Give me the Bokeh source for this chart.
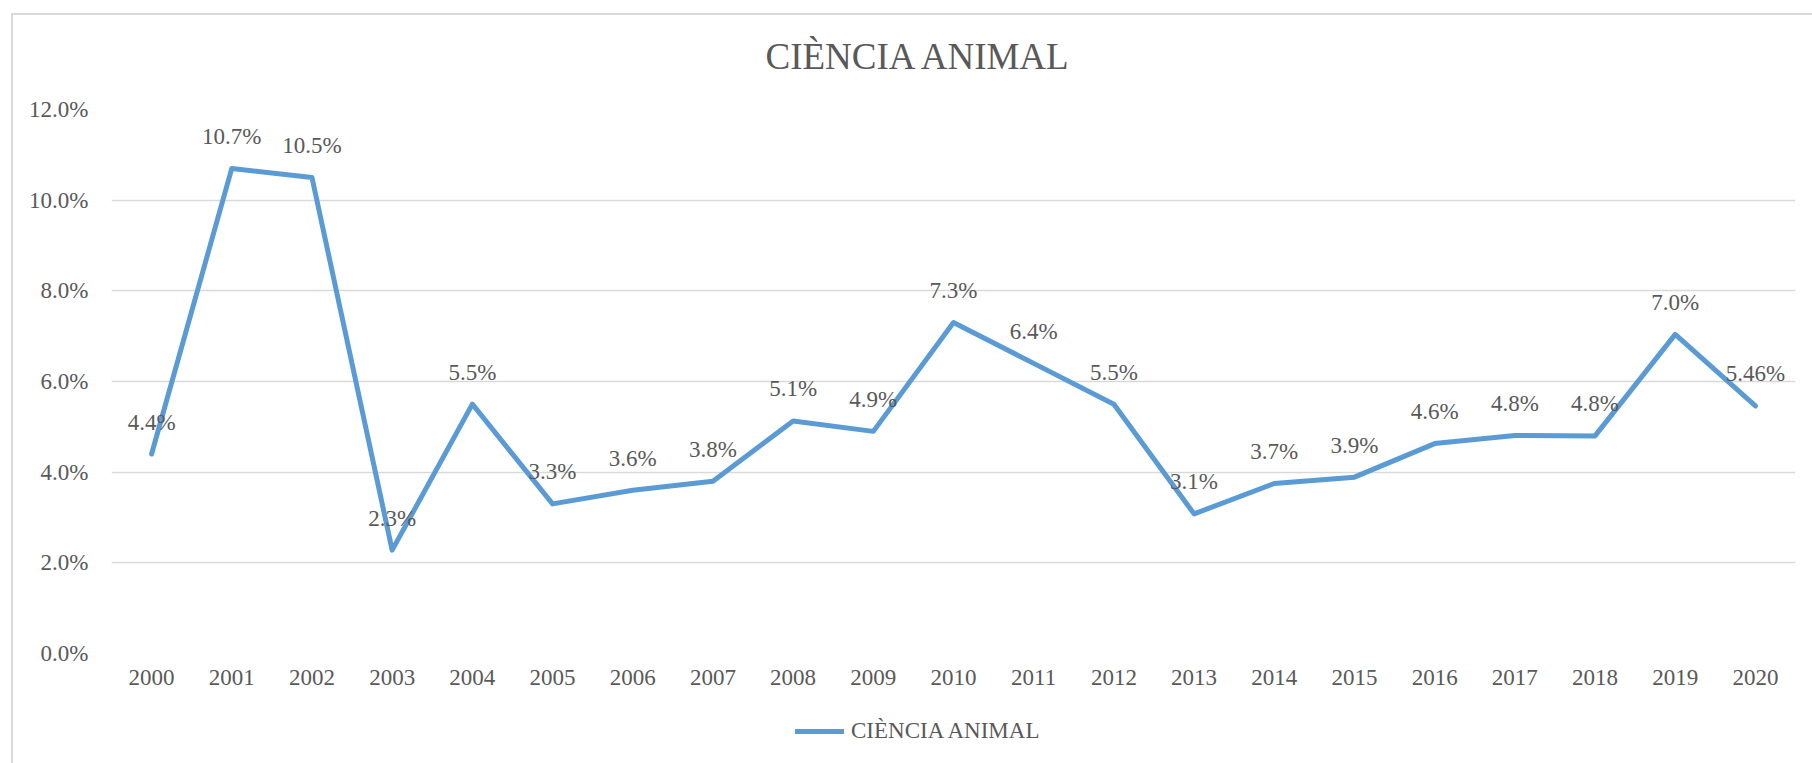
from bokeh.plotting import figure
from bokeh.layouts import column
from bokeh.models import (FactorRange, Range1d, FixedTicker, Legend, LegendItem,
                          ColumnDataSource)
from bokeh.core.properties import value
from bokeh.embed import file_html
from bokeh.resources import INLINE

# ---- data ----
years = ["2000", "2001", "2002", "2003", "2004", "2005", "2006", "2007", "2008", "2009",
         "2010", "2011", "2012", "2013", "2014", "2015", "2016", "2017", "2018", "2019", "2020"]
rates = [4.4, 10.7, 10.5, 2.28, 5.5, 3.3, 3.6, 3.8, 5.13, 4.9,
         7.3, 6.4, 5.5, 3.08, 3.75, 3.89, 4.63, 4.81, 4.8, 7.04, 5.46]
point_labels = ["4.4%", "10.7%", "10.5%", "2.3%", "5.5%", "3.3%", "3.6%", "3.8%", "5.1%", "4.9%",
                "7.3%", "6.4%", "5.5%", "3.1%", "3.7%", "3.9%", "4.6%", "4.8%", "4.8%", "7.0%", "5.46%"]
y_ticks = [0, 2, 4, 6, 8, 10, 12]
y_tick_labels = ["0.0%", "2.0%", "4.0%", "6.0%", "8.0%", "10.0%", "12.0%"]
series_name = "CIÈNCIA ANIMAL"
title_text = "CIÈNCIA ANIMAL"

FONT = "Liberation Serif"
TXT = "#595959"
BLUE = "#5B9BD5"
GRID = "#D9D9D9"

source = ColumnDataSource(dict(year=years, rate=rates, label=point_labels))

W = 1812
H_MAIN = 705
H_LEG = 58

x_range = FactorRange(*years, range_padding=0)

p = figure(x_range=x_range, y_range=Range1d(0, 12),
           width=W, height=H_MAIN, output_backend="svg", toolbar_location=None,
           min_border_left=111, min_border_right=17, min_border_top=109, min_border_bottom=52)

p.border_fill_color = None
p.background_fill_color = "white"
p.outline_line_color = None
p.styles = {
    "background": ("linear-gradient(%s,%s) 11px 13px / 100%% 2px no-repeat, "
                   "linear-gradient(%s,%s) 11px 13px / 2px 100%% no-repeat, white") % (GRID, GRID, GRID, GRID)
}

# title
p.title.text = title_text
p.title.align = "left"
p.title.offset = 654
p.title.standoff = 66
p.title.text_font = FONT
p.title.text_font_size = "37px"
p.title.text_font_style = "normal"
p.title.text_color = TXT

p.xgrid.grid_line_color = None
p.ygrid.grid_line_color = GRID
p.ygrid.grid_line_width = 1.5

p.yaxis.ticker = FixedTicker(ticks=y_ticks)
p.yaxis.major_label_overrides = dict(zip(y_ticks, y_tick_labels))
for ax in (p.xaxis[0], p.yaxis[0]):
    ax.axis_line_color = None
    ax.major_tick_line_color = None
    ax.minor_tick_line_color = None
    ax.major_tick_out = 0
    ax.major_tick_in = 0
    ax.major_label_text_font = FONT
    ax.major_label_text_font_size = "23px"
    ax.major_label_text_color = TXT
p.yaxis.major_label_standoff = 23
p.xaxis.major_label_standoff = 16

line_style = dict(line_width=5, line_color=BLUE, line_join="round", line_cap="round")
p.line(x="year", y="rate", source=source, **line_style)

p.text(x="year", y="rate", text="label", source=source, y_offset=-32,
       text_align="center", text_baseline="middle",
       text_font=value(FONT), text_font_size="23px", text_color=TXT)

# ---- legend strip below the chart (same series, drawn out of its view) ----
pl = figure(width=W, height=H_LEG, output_backend="svg", toolbar_location=None,
            x_axis_type=None, y_axis_type=None, min_border=0,
            x_range=x_range, y_range=Range1d(100, 101))
pl.border_fill_color = None
pl.background_fill_color = None
pl.outline_line_color = None
pl.grid.visible = False
pl.styles = {
    "background": ("linear-gradient(%s,%s) 11px 0px / 2px 100%% no-repeat, white") % (GRID, GRID)
}
leg_r = pl.line(x="year", y="rate", source=source, **line_style)
legend = Legend(items=[LegendItem(label=series_name, renderers=[leg_r])],
                location=(684, 19), orientation="horizontal",
                padding=0, margin=0, border_line_color=None, background_fill_alpha=0,
                glyph_width=49, glyph_height=26, label_height=26,
                label_standoff=7,
                label_text_font=FONT, label_text_font_size="23px", label_text_color=TXT)
pl.add_layout(legend)

layout = column(p, pl, spacing=0)
open("out.html", "w").write(file_html(layout, INLINE))
